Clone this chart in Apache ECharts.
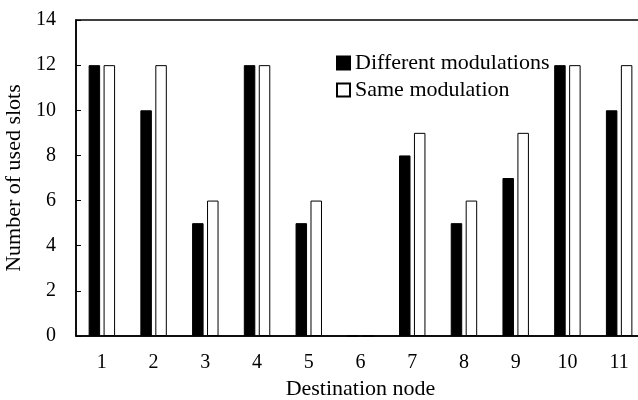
<!DOCTYPE html>
<html>
<head>
<meta charset="utf-8">
<script src="https://cdn.jsdelivr.net/npm/echarts@6/dist/echarts.min.js"></script>
<style>html,body{margin:0;padding:0;background:#fff;}#c{width:638px;height:400px;}</style>
</head>
<body>
<div id="c"></div>
<script>
const categories = ['1','2','3','4','5','6','7','8','9','10','11'];
const differentModulations = [12,10,5,12,5,0,8,5,7,12,10];
const sameModulation = [12,12,6,12,6,0,9,6,9,12,12];
const seriesNames = ['Different modulations','Same modulation'];
const yTicks = {min:0, max:14, interval:2};

const FONT = '"Liberation Serif", "Times New Roman", serif';
const chart = echarts.init(document.getElementById('c'), null, {renderer:'canvas'});
chart.setOption({
  animation:false,
  backgroundColor:'#fff',
  grid:{left:76, right:-7, top:20, bottom:64, show:true, borderColor:'#000', borderWidth:1.5,
        backgroundColor:'transparent', containLabel:false, outerBoundsMode:'none'},
  legend:{
    orient:'vertical', left:336, top:52, padding:0, itemWidth:13, itemHeight:13, itemGap:5,
    icon:'rect',
    textStyle:{fontFamily:FONT, fontSize:22, color:'#000', lineHeight:22},
    data:seriesNames
  },
  xAxis:{
    type:'category', data:categories,
    name:'Destination node', nameLocation:'middle', nameGap:40,
    nameTextStyle:{fontFamily:FONT, fontSize:22, color:'#000'},
    axisLine:{lineStyle:{color:'#000', width:1.5}},
    axisTick:{inside:true, length:4, alignWithLabel:true, lineStyle:{color:'#000'}},
    axisLabel:{fontFamily:FONT, fontSize:20, color:'#000', margin:17},
    splitLine:{show:false}
  },
  yAxis:{
    type:'value', min:yTicks.min, max:yTicks.max, interval:yTicks.interval,
    name:'Number of used slots', nameLocation:'middle', nameGap:40,
    nameTextStyle:{fontFamily:FONT, fontSize:22, color:'#000'},
    axisLine:{show:true, lineStyle:{color:'#000', width:1.5}},
    axisTick:{show:true, inside:true, length:5, lineStyle:{color:'#000'}},
    axisLabel:{fontFamily:FONT, fontSize:20, color:'#000', margin:20},
    splitLine:{show:false}
  },
  series:[
    {name:seriesNames[0], type:'bar', data:differentModulations, barWidth:11.5, barGap:'30%',
     itemStyle:{color:'#000', borderColor:'#000', borderWidth:1}},
    {name:seriesNames[1], type:'bar', data:sameModulation, barWidth:11.5,
     itemStyle:{color:'#fff', borderColor:'#000', borderWidth:1}}
  ]
});
</script>
</body>
</html>
